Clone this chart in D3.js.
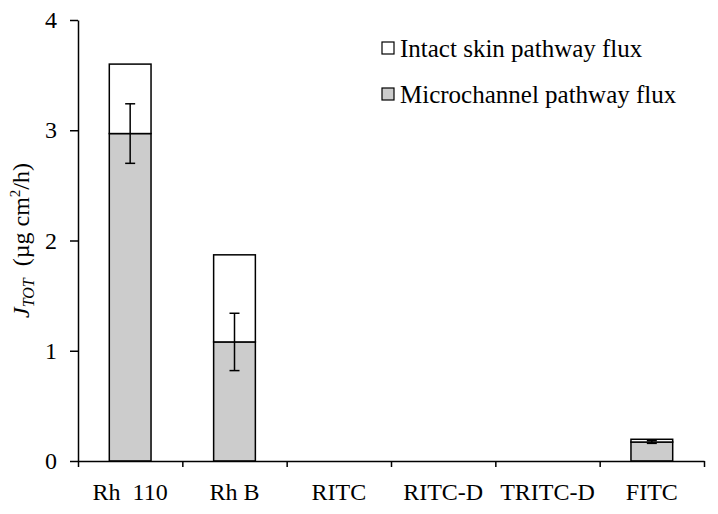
<!DOCTYPE html>
<html>
<head>
<meta charset="utf-8">
<script src="https://cdn.jsdelivr.net/npm/d3@7"></script>
<style>
body { margin: 0; background: #fff; }
text { font-family: "Liberation Serif", "Times New Roman", serif; }
</style>
</head>
<body>
<div id="chart"></div>
<script>
var categories = ["Rh\u00a0 110", "Rh B", "RITC", "RITC-D", "TRITC-D", "FITC"];
var microFlux = [2.97, 1.08, 0, 0, 0, 0.172];
var intactFlux = [0.63, 0.79, 0, 0, 0, 0.025];
var microErr = [0.27, 0.26, 0, 0, 0, 0.012];
var yTicks = [0, 1, 2, 3, 4];
var legendLabels = ["Intact skin pathway flux", "Microchannel pathway flux"];

var chartWidth = 718, chartHeight = 514;
var plotLeft = 78, plotRight = 704, plotTop = 20, plotBottom = 461;
var grey = "#cccccc";

var svg = d3.select("#chart").append("svg")
	.attr("width", chartWidth)
	.attr("height", chartHeight);

var x = d3.scaleBand()
	.domain(categories)
	.range([plotLeft, plotRight])
	.paddingInner(0.6)
	.paddingOuter(0.3);

// boundaries between the categories carry the x ticks
var xEdge = d3.scaleLinear()
	.domain([0, categories.length])
	.range([plotLeft, plotRight]);

var y = d3.scaleLinear()
	.domain([0, 4])
	.range([plotBottom, plotTop]);

// bars, microchannel part at the bottom and intact part stacked on it
var bars = svg.append("g");
bars.selectAll("rect.micro")
	.data(categories)
	.enter()
	.append("rect")
	.attr("class", "micro")
	.attr("x", function(d){ return x(d); })
	.attr("width", x.bandwidth())
	.attr("y", function(d, i){ return y(microFlux[i]); })
	.attr("height", function(d, i){ return y(0) - y(microFlux[i]); })
	.attr("fill", grey)
	.attr("stroke", function(d, i){ return microFlux[i] > 0 ? "#000" : "none"; })
	.attr("stroke-width", 1.5);

bars.selectAll("rect.intact")
	.data(categories)
	.enter()
	.append("rect")
	.attr("class", "intact")
	.attr("x", function(d){ return x(d); })
	.attr("width", x.bandwidth())
	.attr("y", function(d, i){ return y(microFlux[i] + intactFlux[i]); })
	.attr("height", function(d, i){ return y(microFlux[i]) - y(microFlux[i] + intactFlux[i]); })
	.attr("fill", "#fff")
	.attr("stroke", function(d, i){ return intactFlux[i] > 0 ? "#000" : "none"; })
	.attr("stroke-width", 1.5);

// error bars on the microchannel part
var err = svg.append("g")
	.attr("stroke", "#000")
	.attr("stroke-width", 1.5);
categories.forEach(function(c, i){
	if (microErr[i] <= 0) return;
	var cx = x(c) + x.bandwidth() / 2;
	var y1 = y(microFlux[i] + microErr[i]), y2 = y(microFlux[i] - microErr[i]);
	err.append("line").attr("x1", cx).attr("x2", cx).attr("y1", y1).attr("y2", y2);
	err.append("line").attr("x1", cx - 5).attr("x2", cx + 5).attr("y1", y1).attr("y2", y1);
	err.append("line").attr("x1", cx - 5).attr("x2", cx + 5).attr("y1", y2).attr("y2", y2);
});

// y axis
var yAxis = svg.append("g")
	.attr("transform", "translate(" + plotLeft + ",0)")
	.call(d3.axisLeft(y).tickValues(yTicks).tickSize(8).tickPadding(13).tickSizeOuter(0).tickFormat(d3.format("d")));
yAxis.select(".domain").attr("stroke-width", 1.5);
yAxis.selectAll(".tick line").attr("stroke-width", 1.5);
yAxis.selectAll("text").attr("font-size", 24).attr("font-family", "Liberation Serif").attr("fill", "#000");

// x axis: ticks at the edges, labels in the middle
var xAxis = svg.append("g")
	.attr("transform", "translate(0," + plotBottom + ")")
	.call(d3.axisBottom(xEdge).ticks(categories.length).tickSize(6).tickSizeOuter(0).tickFormat(""));
xAxis.select(".domain").attr("stroke-width", 1.5);
xAxis.selectAll(".tick line").attr("stroke-width", 1.5);

var xLabels = svg.append("g")
	.attr("transform", "translate(0," + plotBottom + ")")
	.call(d3.axisBottom(x).tickSize(0).tickPadding(0));
xLabels.select(".domain").remove();
xLabels.selectAll("text")
	.attr("y", 39)
	.attr("dy", 0)
	.attr("font-size", 24)
	.attr("font-family", "Liberation Serif")
	.attr("fill", "#000");

// y axis title
var yTitle = svg.append("text")
	.attr("transform", "translate(29," + ((plotTop + plotBottom) / 2) + ") rotate(-90)")
	.attr("text-anchor", "middle")
	.attr("font-size", 24);
yTitle.append("tspan").attr("font-style", "italic").text("J");
yTitle.append("tspan").attr("font-style", "italic").attr("font-size", 16).attr("dy", 5).text("TOT");
yTitle.append("tspan").attr("dy", -5).text("\u00a0 (\u00b5g cm");
yTitle.append("tspan").attr("font-size", 15).attr("dy", -9).text("2");
yTitle.append("tspan").attr("dy", 9).text("/h)");

// legend
var legend = svg.append("g")
	.attr("transform", "translate(382,42)");
var fills = ["#fff", grey];
legendLabels.forEach(function(t, i){
	var row = legend.append("g").attr("transform", "translate(0," + (i * 46) + ")");
	row.append("rect")
		.attr("width", 12).attr("height", 12)
		.attr("fill", fills[i])
		.attr("stroke", "#000").attr("stroke-width", 1.2);
	row.append("text")
		.attr("x", 18).attr("y", 15)
		.attr("font-size", 25)
		.text(t);
});
</script>
</body>
</html>
